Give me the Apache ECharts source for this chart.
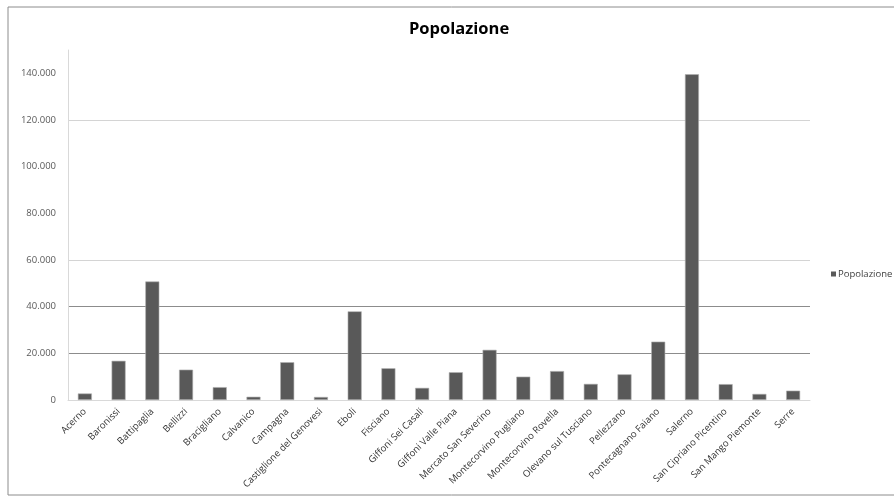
<!DOCTYPE html>
<html>
<head>
<meta charset="utf-8">
<script src="https://cdn.jsdelivr.net/npm/echarts@6/dist/echarts.min.js"></script>
<style>
  html, body { margin: 0; padding: 0; background: #fff; }
  #chart { width: 894px; height: 503px; }
</style>
</head>
<body>
<div id="chart"></div>
<script>
// Comuni della provincia di Salerno e relativa popolazione
const comuni = [
  'Acerno', 'Baronissi', 'Battipaglia', 'Bellizzi', 'Bracigliano', 'Calvanico',
  'Campagna', 'Castiglione del Genovesi', 'Eboli', 'Fisciano', 'Giffoni Sei Casali',
  'Giffoni Valle Piana', 'Mercato San Severino', 'Montecorvino Pugliano',
  'Montecorvino Rovella', 'Olevano sul Tusciano', 'Pellezzano', 'Pontecagnano Faiano',
  'Salerno', 'San Cipriano Picentino', 'San Mango Piemonte', 'Serre'
];
const popolazione = [
  2800, 16800, 50800, 13000, 5500, 1400,
  16200, 1300, 38000, 13600, 5200,
  11900, 21500, 10000,
  12400, 6900, 11000, 25000,
  139600, 6800, 2600, 4000
];
const nomeSerie = 'Popolazione';
const titolo = 'Popolazione';

// separatore delle migliaia all'italiana
function formatIt(v) {
  return String(v).replace(/\B(?=(\d{3})+(?!\d))/g, '.');
}

const chart = echarts.init(document.getElementById('chart'), null, { renderer: 'canvas' });
chart.setOption({
  backgroundColor: '#ffffff',
  animation: false,
  title: {
    text: titolo,
    left: 404,
    top: 16,
    textStyle: { fontFamily: 'Open Sans', fontWeight: 'bold', fontSize: 16.5, color: '#000' }
  },
  legend: {
    orient: 'vertical',
    left: 826,
    top: 264,
    icon: 'rect',
    itemWidth: 5,
    itemHeight: 5,
    itemGap: 4,
    itemStyle: { borderWidth: 0 },
    textStyle: { fontFamily: 'Open Sans', fontSize: 9.5, color: '#404040', padding: [0, 0, 0, -3] },
    data: [nomeSerie]
  },
  graphic: [{
    type: 'rect',
    shape: { x: 8, y: 7, width: 900, height: 488 },
    style: { fill: 'none', stroke: '#8c8c8c', lineWidth: 1 },
    silent: true
  }],
  grid: { left: 68, right: 84, top: 50, bottom: 103 },
  xAxis: {
    type: 'category',
    data: comuni,
    axisLine: { lineStyle: { color: '#d9d9d9' } },
    axisTick: { show: false },
    axisLabel: {
      interval: 0,
      rotate: 45,
      fontFamily: 'Open Sans',
      fontSize: 9.5,
      color: '#333333',
      margin: 10
    }
  },
  yAxis: {
    type: 'value',
    min: 0,
    max: 150000,
    interval: 20000,
    axisLine: { show: true, lineStyle: { color: '#d9d9d9' } },
    axisTick: { show: false },
    axisLabel: {
      fontFamily: 'Open Sans',
      fontSize: 9.5,
      color: '#595959',
      margin: 12,
      formatter: v => (v > 140000 ? '' : formatIt(v))
    },
    splitLine: {
      lineStyle: {
        color: ['#d9d9d9', '#8c8c8c', '#8c8c8c', '#d4d4d4', 'rgba(0,0,0,0)',
                'rgba(0,0,0,0)', '#d4d4d4', 'rgba(0,0,0,0)', 'rgba(0,0,0,0)'],
        width: 1
      }
    }
  },
  series: [{
    name: nomeSerie,
    type: 'bar',
    data: popolazione,
    barWidth: 14,
    itemStyle: { color: '#595959', borderColor: '#b0b0b0', borderWidth: 0.6 }
  }]
});
</script>
</body>
</html>
